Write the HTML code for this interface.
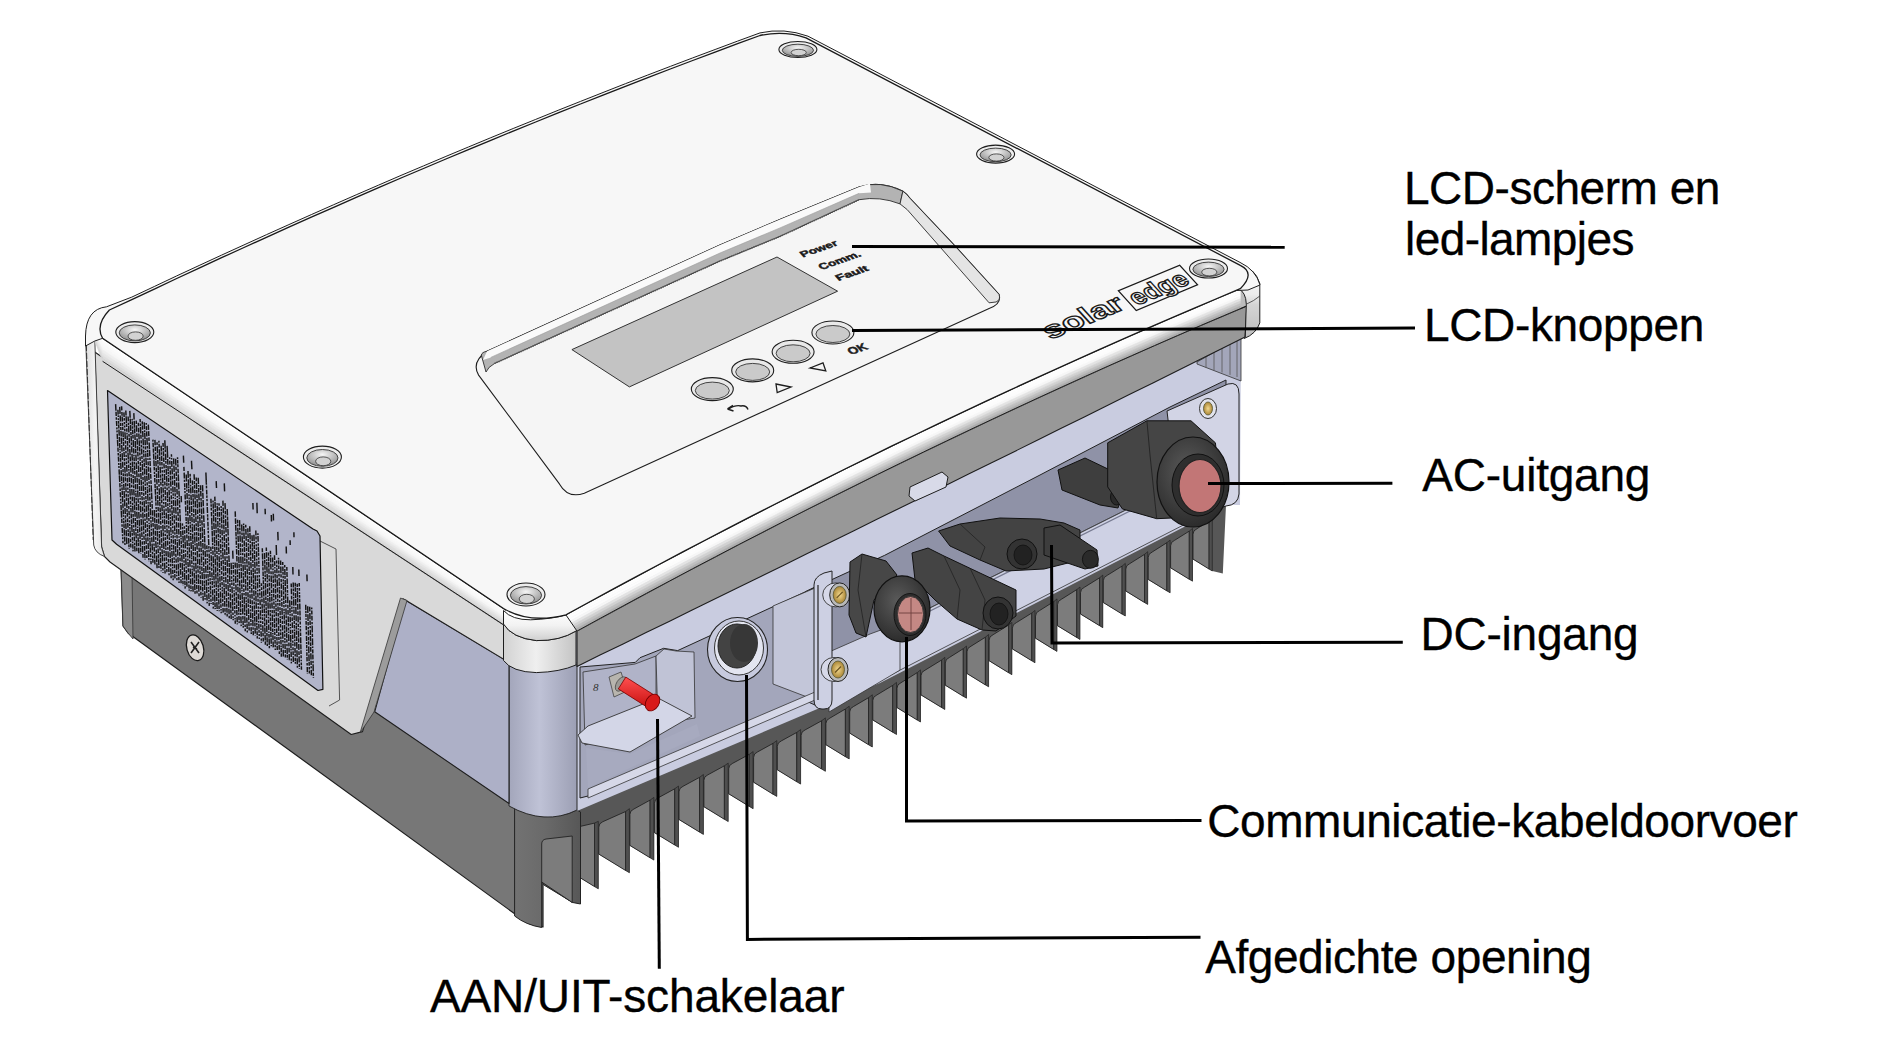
<!DOCTYPE html>
<html><head><meta charset="utf-8"><title>SolarEdge omvormer</title>
<style>html,body{margin:0;padding:0;background:#fff;}body{width:1879px;height:1062px;overflow:hidden;}svg{display:block;}</style>
</head><body>
<svg width="1879" height="1062" viewBox="0 0 1879 1062"><defs>
<linearGradient id="rimhl" x1="0" y1="0" x2="0" y2="1">
 <stop offset="0" stop-color="#ffffff"/><stop offset="0.4" stop-color="#fcfcfc"/><stop offset="0.8" stop-color="#c4c4c4"/><stop offset="1" stop-color="#a6a6a6"/>
</linearGradient>
<linearGradient id="rimhl2" x1="0" y1="0" x2="0" y2="1">
 <stop offset="0" stop-color="#ffffff"/><stop offset="0.55" stop-color="#f3f3f3"/><stop offset="1" stop-color="#d6d6d6"/>
</linearGradient>
<linearGradient id="corner" x1="0" y1="0" x2="1" y2="0">
 <stop offset="0" stop-color="#a3a6bb"/><stop offset="0.45" stop-color="#bfc2d6"/><stop offset="1" stop-color="#9c9fb4"/>
</linearGradient>
<linearGradient id="lidcorner" x1="0" y1="0" x2="1" y2="0">
 <stop offset="0" stop-color="#d2d2d2"/><stop offset="0.45" stop-color="#efefef"/><stop offset="1" stop-color="#c4c4c4"/>
</linearGradient>
<linearGradient id="lidcornerR" x1="0" y1="0" x2="1" y2="0">
 <stop offset="0" stop-color="#b4b4b4"/><stop offset="0.5" stop-color="#e8e8e8"/><stop offset="1" stop-color="#d2d2d2"/>
</linearGradient>
<radialGradient id="screw" cx="0.5" cy="0.3" r="0.7">
 <stop offset="0" stop-color="#f6f6f6"/><stop offset="1" stop-color="#8e8e8e"/>
</radialGradient>
<radialGradient id="brass" cx="0.5" cy="0.5" r="0.5">
 <stop offset="0" stop-color="#f3d98e"/><stop offset="1" stop-color="#a98535"/>
</radialGradient>
<linearGradient id="swg" x1="0" y1="0" x2="0" y2="1">
 <stop offset="0" stop-color="#ff5050"/><stop offset="1" stop-color="#c81010"/>
</linearGradient>
<radialGradient id="cap" cx="0.42" cy="0.38" r="0.62">
 <stop offset="0" stop-color="#5a5a5a"/><stop offset="1" stop-color="#2c2c2c"/>
</radialGradient>
<linearGradient id="dk" x1="0" y1="0" x2="0" y2="1">
 <stop offset="0" stop-color="#4a4a4a"/><stop offset="1" stop-color="#333"/>
</linearGradient>
</defs>
<polygon points="121.0,566.0 374.0,705.0 509.0,790.0 520.0,806.0 543.0,830.0 543.0,927.0 530.0,924.0 515.0,914.0 128.0,633.0 123.0,626.0" fill="#777777" stroke="#1e1e1e" stroke-width="1.2" stroke-linejoin="round" />
<polygon points="121.0,566.0 132.0,573.0 133.0,639.0 128.0,633.0 123.0,626.0" fill="#8b8b8b" stroke="#333" stroke-width="0.8" stroke-linejoin="round" />
<ellipse cx="195.1" cy="647.8" rx="8.3" ry="13.2" fill="#dedad6" stroke="#1a1a1a" stroke-width="1.3" transform="rotate(-16 195.1 647.8)" />
<path d="M191 642 L199 653 M199 642 L191 653 M193 647 L197 649" stroke="#222" stroke-width="1.6"/>
<polygon points="543.0,805.0 543.0,884.7 572.3,902.3 572.3,873.2 598.3,888.8 598.3,854.1 629.4,872.7 629.4,845.4 653.9,860.1 653.9,832.6 678.5,847.3 678.5,819.5 703.4,834.4 703.4,806.7 728.2,821.6 728.2,793.8 753.1,808.7 753.1,782.2 776.8,796.4 776.8,769.8 800.6,784.1 800.6,756.4 825.4,771.3 825.4,744.7 849.2,758.9 849.2,733.1 872.3,747.0 872.3,719.9 896.5,734.5 896.5,707.6 920.5,722.0 920.5,694.9 944.8,709.5 944.8,685.2 966.5,698.2 966.5,673.5 988.6,686.8 988.6,660.7 1011.9,674.7 1011.9,648.9 1035.0,662.8 1035.0,638.2 1057.0,651.4 1057.0,625.7 1080.0,639.5 1080.0,614.0 1102.8,627.7 1102.8,602.5 1125.3,616.0 1125.3,591.0 1147.7,604.4 1147.7,579.4 1170.1,592.8 1170.1,567.8 1192.5,581.2 1192.5,559.1 1212.3,571.0 1222.8,573.6 1226.0,505.0 1226.0,470.0 543.0,780.0" fill="#575757" stroke="none" stroke-width="1" stroke-linejoin="round" />
<path d="M543.5,884.7 L543.5,838.9 Q543.5,834.9 547.5,833.4 L568.5,828.6 L568.5,900.0 Z" fill="#7c7c7c" stroke="#222" stroke-width="0.9" stroke-linejoin="round" />
<polygon points="568.5,828.6 572.3,826.8 572.3,902.3 568.5,900.0" fill="#4f4f4f" stroke="#222" stroke-width="0.7" stroke-linejoin="round" />
<path d="M572.8,873.2 L572.8,832.7 Q572.8,828.7 576.8,827.2 L594.5,823.1 L594.5,886.6 Z" fill="#7c7c7c" stroke="#222" stroke-width="0.9" stroke-linejoin="round" />
<polygon points="594.5,823.1 598.3,821.3 598.3,888.8 594.5,886.6" fill="#4f4f4f" stroke="#222" stroke-width="0.7" stroke-linejoin="round" />
<path d="M598.8,854.1 L598.8,827.2 Q598.8,823.2 602.8,821.7 L625.6,811.5 L625.6,870.5 Z" fill="#7c7c7c" stroke="#222" stroke-width="0.9" stroke-linejoin="round" />
<polygon points="625.6,811.5 629.4,808.7 629.4,872.7 625.6,870.5" fill="#4f4f4f" stroke="#222" stroke-width="0.7" stroke-linejoin="round" />
<path d="M629.9,845.4 L629.9,814.5 Q629.9,810.5 633.9,809.0 L650.1,800.1 L650.1,857.8 Z" fill="#7c7c7c" stroke="#222" stroke-width="0.9" stroke-linejoin="round" />
<polygon points="650.1,800.1 653.9,797.4 653.9,860.1 650.1,857.8" fill="#4f4f4f" stroke="#222" stroke-width="0.7" stroke-linejoin="round" />
<path d="M654.4,832.6 L654.4,803.2 Q654.4,799.2 658.4,797.7 L674.7,788.8 L674.7,845.0 Z" fill="#7c7c7c" stroke="#222" stroke-width="0.9" stroke-linejoin="round" />
<polygon points="674.7,788.8 678.5,786.0 678.5,847.3 674.7,845.0" fill="#4f4f4f" stroke="#222" stroke-width="0.7" stroke-linejoin="round" />
<path d="M679.0,819.5 L679.0,791.8 Q679.0,787.8 683.0,786.3 L699.6,777.3 L699.6,832.1 Z" fill="#7c7c7c" stroke="#222" stroke-width="0.9" stroke-linejoin="round" />
<polygon points="699.6,777.3 703.4,774.5 703.4,834.4 699.6,832.1" fill="#4f4f4f" stroke="#222" stroke-width="0.7" stroke-linejoin="round" />
<path d="M703.9,806.7 L703.9,780.3 Q703.9,776.3 707.9,774.8 L724.4,765.8 L724.4,819.3 Z" fill="#7c7c7c" stroke="#222" stroke-width="0.9" stroke-linejoin="round" />
<polygon points="724.4,765.8 728.2,763.1 728.2,821.6 724.4,819.3" fill="#4f4f4f" stroke="#222" stroke-width="0.7" stroke-linejoin="round" />
<path d="M728.7,793.8 L728.7,768.8 Q728.7,764.8 732.7,763.3 L749.3,754.3 L749.3,806.4 Z" fill="#7c7c7c" stroke="#222" stroke-width="0.9" stroke-linejoin="round" />
<polygon points="749.3,754.3 753.1,751.6 753.1,808.7 749.3,806.4" fill="#4f4f4f" stroke="#222" stroke-width="0.7" stroke-linejoin="round" />
<path d="M753.6,782.2 L753.6,757.4 Q753.6,753.4 757.6,751.9 L773.0,743.4 L773.0,794.2 Z" fill="#7c7c7c" stroke="#222" stroke-width="0.9" stroke-linejoin="round" />
<polygon points="773.0,743.4 776.8,740.6 776.8,796.4 773.0,794.2" fill="#4f4f4f" stroke="#222" stroke-width="0.7" stroke-linejoin="round" />
<path d="M777.3,769.8 L777.3,746.4 Q777.3,742.4 781.3,740.9 L796.8,732.4 L796.8,781.8 Z" fill="#7c7c7c" stroke="#222" stroke-width="0.9" stroke-linejoin="round" />
<polygon points="796.8,732.4 800.6,729.6 800.6,784.1 796.8,781.8" fill="#4f4f4f" stroke="#222" stroke-width="0.7" stroke-linejoin="round" />
<path d="M801.1,756.4 L801.1,735.4 Q801.1,731.4 805.1,729.9 L821.6,720.8 L821.6,769.0 Z" fill="#7c7c7c" stroke="#222" stroke-width="0.9" stroke-linejoin="round" />
<polygon points="821.6,720.8 825.4,717.9 825.4,771.3 821.6,769.0" fill="#4f4f4f" stroke="#222" stroke-width="0.7" stroke-linejoin="round" />
<path d="M825.9,744.7 L825.9,723.6 Q825.9,719.6 829.9,718.1 L845.4,709.0 L845.4,756.7 Z" fill="#7c7c7c" stroke="#222" stroke-width="0.9" stroke-linejoin="round" />
<polygon points="845.4,709.0 849.2,706.2 849.2,758.9 845.4,756.7" fill="#4f4f4f" stroke="#222" stroke-width="0.7" stroke-linejoin="round" />
<path d="M849.7,733.1 L849.7,711.9 Q849.7,707.9 853.7,706.4 L868.5,697.7 L868.5,744.7 Z" fill="#7c7c7c" stroke="#222" stroke-width="0.9" stroke-linejoin="round" />
<polygon points="868.5,697.7 872.3,694.8 872.3,747.0 868.5,744.7" fill="#4f4f4f" stroke="#222" stroke-width="0.7" stroke-linejoin="round" />
<path d="M872.8,719.9 L872.8,700.5 Q872.8,696.5 876.8,695.0 L892.7,685.4 L892.7,732.2 Z" fill="#7c7c7c" stroke="#222" stroke-width="0.9" stroke-linejoin="round" />
<polygon points="892.7,685.4 896.5,682.4 896.5,734.5 892.7,732.2" fill="#4f4f4f" stroke="#222" stroke-width="0.7" stroke-linejoin="round" />
<path d="M897.0,707.6 L897.0,688.2 Q897.0,684.2 901.0,682.7 L917.3,672.6 L917.3,720.1 Z" fill="#7c7c7c" stroke="#222" stroke-width="0.9" stroke-linejoin="round" />
<polygon points="917.3,672.6 920.5,669.9 920.5,722.0 917.3,720.1" fill="#4f4f4f" stroke="#222" stroke-width="0.7" stroke-linejoin="round" />
<path d="M921.0,694.9 L921.0,675.7 Q921.0,671.7 925.0,670.2 L941.6,660.0 L941.6,707.5 Z" fill="#7c7c7c" stroke="#222" stroke-width="0.9" stroke-linejoin="round" />
<polygon points="941.6,660.0 944.8,657.3 944.8,709.5 941.6,707.5" fill="#4f4f4f" stroke="#222" stroke-width="0.7" stroke-linejoin="round" />
<path d="M945.3,685.2 L945.3,663.0 Q945.3,659.0 949.3,657.5 L963.3,648.7 L963.3,696.3 Z" fill="#7c7c7c" stroke="#222" stroke-width="0.9" stroke-linejoin="round" />
<polygon points="963.3,648.7 966.5,646.0 966.5,698.2 963.3,696.3" fill="#4f4f4f" stroke="#222" stroke-width="0.7" stroke-linejoin="round" />
<path d="M967.0,673.5 L967.0,651.7 Q967.0,647.7 971.0,646.2 L985.4,637.2 L985.4,684.9 Z" fill="#7c7c7c" stroke="#222" stroke-width="0.9" stroke-linejoin="round" />
<polygon points="985.4,637.2 988.6,634.5 988.6,686.8 985.4,684.9" fill="#4f4f4f" stroke="#222" stroke-width="0.7" stroke-linejoin="round" />
<path d="M989.1,660.7 L989.1,640.2 Q989.1,636.2 993.1,634.7 L1008.7,625.0 L1008.7,672.8 Z" fill="#7c7c7c" stroke="#222" stroke-width="0.9" stroke-linejoin="round" />
<polygon points="1008.7,625.0 1011.9,622.4 1011.9,674.7 1008.7,672.8" fill="#4f4f4f" stroke="#222" stroke-width="0.7" stroke-linejoin="round" />
<path d="M1012.4,648.9 L1012.4,628.1 Q1012.4,624.1 1016.4,622.6 L1031.8,613.0 L1031.8,660.8 Z" fill="#7c7c7c" stroke="#222" stroke-width="0.9" stroke-linejoin="round" />
<polygon points="1031.8,613.0 1035.0,610.4 1035.0,662.8 1031.8,660.8" fill="#4f4f4f" stroke="#222" stroke-width="0.7" stroke-linejoin="round" />
<path d="M1035.5,638.2 L1035.5,616.1 Q1035.5,612.1 1039.5,610.6 L1053.8,601.6 L1053.8,649.5 Z" fill="#7c7c7c" stroke="#222" stroke-width="0.9" stroke-linejoin="round" />
<polygon points="1053.8,601.6 1057.0,598.9 1057.0,651.4 1053.8,649.5" fill="#4f4f4f" stroke="#222" stroke-width="0.7" stroke-linejoin="round" />
<path d="M1057.5,625.7 L1057.5,604.7 Q1057.5,600.7 1061.5,599.2 L1076.8,589.6 L1076.8,637.5 Z" fill="#7c7c7c" stroke="#222" stroke-width="0.9" stroke-linejoin="round" />
<polygon points="1076.8,589.6 1080.0,587.0 1080.0,639.5 1076.8,637.5" fill="#4f4f4f" stroke="#222" stroke-width="0.7" stroke-linejoin="round" />
<path d="M1080.5,614.0 L1080.5,592.7 Q1080.5,588.7 1084.5,587.2 L1099.6,577.8 L1099.6,625.7 Z" fill="#7c7c7c" stroke="#222" stroke-width="0.9" stroke-linejoin="round" />
<polygon points="1099.6,577.8 1102.8,575.1 1102.8,627.7 1099.6,625.7" fill="#4f4f4f" stroke="#222" stroke-width="0.7" stroke-linejoin="round" />
<path d="M1103.3,602.5 L1103.3,580.8 Q1103.3,576.8 1107.3,575.3 L1122.1,566.1 L1122.1,614.1 Z" fill="#7c7c7c" stroke="#222" stroke-width="0.9" stroke-linejoin="round" />
<polygon points="1122.1,566.1 1125.3,563.4 1125.3,616.0 1122.1,614.1" fill="#4f4f4f" stroke="#222" stroke-width="0.7" stroke-linejoin="round" />
<path d="M1125.8,591.0 L1125.8,569.1 Q1125.8,565.1 1129.8,563.6 L1144.5,554.4 L1144.5,602.5 Z" fill="#7c7c7c" stroke="#222" stroke-width="0.9" stroke-linejoin="round" />
<polygon points="1144.5,554.4 1147.7,551.7 1147.7,604.4 1144.5,602.5" fill="#4f4f4f" stroke="#222" stroke-width="0.7" stroke-linejoin="round" />
<path d="M1148.2,579.4 L1148.2,557.5 Q1148.2,553.5 1152.2,552.0 L1166.9,542.7 L1166.9,590.9 Z" fill="#7c7c7c" stroke="#222" stroke-width="0.9" stroke-linejoin="round" />
<polygon points="1166.9,542.7 1170.1,540.1 1170.1,592.8 1166.9,590.9" fill="#4f4f4f" stroke="#222" stroke-width="0.7" stroke-linejoin="round" />
<path d="M1170.6,567.8 L1170.6,545.8 Q1170.6,541.8 1174.6,540.3 L1189.3,531.1 L1189.3,579.3 Z" fill="#7c7c7c" stroke="#222" stroke-width="0.9" stroke-linejoin="round" />
<polygon points="1189.3,531.1 1192.5,528.4 1192.5,581.2 1189.3,579.3" fill="#4f4f4f" stroke="#222" stroke-width="0.7" stroke-linejoin="round" />
<path d="M1193.0,559.1 L1193.0,534.2 Q1193.0,530.2 1197.0,528.7 L1209.1,520.8 L1209.1,569.1 Z" fill="#7c7c7c" stroke="#222" stroke-width="0.9" stroke-linejoin="round" />
<polygon points="1209.1,520.8 1212.3,518.1 1212.3,571.0 1209.1,569.1" fill="#4f4f4f" stroke="#222" stroke-width="0.7" stroke-linejoin="round" />
<linearGradient id="bcorner" x1="0" y1="0" x2="1" y2="0"><stop offset="0" stop-color="#747474"/><stop offset="0.5" stop-color="#6a6a6a"/><stop offset="1" stop-color="#575757"/></linearGradient>
<path d="M509,800 Q545,826 577,810 L580.5,812 L580.5,904 L572.2,902.4 L541.7,882 L541.7,927.5 Q526,925 514.6,916 L514.6,806 Z" fill="url(#bcorner)" stroke="#222" stroke-width="1" stroke-linejoin="round" />
<path d="M541.7,882 L541.7,844 Q541.7,839.7 546,839 L572.2,836 L572.2,902.4 Z" fill="#7c7c7c" stroke="#222" stroke-width="0.9" stroke-linejoin="round" />
<polygon points="509.0,640.0 1245.0,300.0 1241.0,340.0 1240.0,505.0 1226.0,505.0 1183.0,527.5 880.0,683.0 815.0,710.0 577.0,811.0 509.0,800.0" fill="#c9cce0" stroke="none" stroke-width="1" stroke-linejoin="round" />
<path d="M509,655 L577,662 L577,810 Q545,826 509,806 Z" fill="url(#corner)" stroke="none" stroke-width="1" stroke-linejoin="round" />
<polyline points="509.0,656.0 509.0,806.0" fill="none" stroke="#2a2a2a" stroke-width="1" stroke-linejoin="round" />
<path d="M577,810 Q545,826 509,806" fill="none" stroke="#2a2a2a" stroke-width="1" stroke-linejoin="round" />
<polyline points="577.0,664.0 577.0,811.0" fill="none" stroke="#2a2a2a" stroke-width="1" stroke-linejoin="round" />
<polygon points="580.0,667.0 635.3,662.4 640.0,657.7 663.6,648.3 677.7,650.6 804.9,592.0 815.0,587.0 815.0,705.0 806.0,701.0 588.0,796.0 580.0,798.0" fill="#a3a6bb" stroke="#222" stroke-width="1" stroke-linejoin="round" />
<polygon points="804.9,592.0 884.7,555.3 1040.0,475.0 1170.0,407.0 1226.0,380.0 1226.0,460.0 870.0,638.0 815.0,660.0" fill="#8f92a7" stroke="#222" stroke-width="1" stroke-linejoin="round" />
<polygon points="860.0,643.0 1226.0,460.0 1226.0,503.2 860.0,690.6" fill="#ced1e4" stroke="#333" stroke-width="0.8" stroke-linejoin="round" />
<polyline points="860.0,646.0 1226.0,463.0" fill="none" stroke="#777a90" stroke-width="1.2" stroke-linejoin="round" />
<polygon points="583.0,672.0 635.0,664.0 656.0,656.0 656.0,724.0 585.0,745.0" fill="#b0b3c8" stroke="#333" stroke-width="0.8" stroke-linejoin="round" />
<polygon points="656.0,656.0 664.0,649.0 676.0,651.0 694.0,652.0 695.0,718.0 658.0,724.0" fill="#c0c3d6" stroke="#333" stroke-width="0.8" stroke-linejoin="round" />
<polygon points="578.0,735.0 588.0,726.0 658.0,698.0 692.0,716.0 630.0,752.0 582.0,743.0" fill="#d3d6e7" stroke="#333" stroke-width="0.9" stroke-linejoin="round" />
<polygon points="586.0,748.0 630.0,754.0 697.0,724.0 700.0,736.0 630.0,768.0 588.0,788.0" fill="#a7aabf" stroke="none" stroke-width="1" stroke-linejoin="round" />
<polygon points="773.0,606.0 815.0,588.0 815.0,700.0 773.0,684.0" fill="#c3c6d9" stroke="#333" stroke-width="0.8" stroke-linejoin="round" />
<polygon points="588.0,789.0 815.0,692.0 815.0,700.0 588.0,798.0" fill="#d6d8e8" stroke="#333" stroke-width="0.8" stroke-linejoin="round" />
<ellipse cx="737.5" cy="649.5" rx="30.0" ry="32.0" fill="#c7cade" stroke="#222" stroke-width="1.1" />
<ellipse cx="739.0" cy="648.0" rx="24.5" ry="27.0" fill="#e3e5f0" stroke="#333" stroke-width="1" />
<ellipse cx="737.0" cy="646.0" rx="19.0" ry="22.0" fill="#434343" stroke="#222" stroke-width="1" />
<ellipse cx="744.0" cy="643.0" rx="14.0" ry="19.0" fill="#373737" stroke="none" stroke-width="1" />
<polygon points="609.0,677.0 621.0,672.0 627.0,691.0 614.0,697.0" fill="#b8b5ae" stroke="#444" stroke-width="0.8" stroke-linejoin="round" />
<ellipse cx="621.0" cy="684.0" rx="4.5" ry="8.0" fill="#9c9a95" stroke="#444" stroke-width="0.7" transform="rotate(32 621.0 684.0)" />
<path d="M 618.3,688.9 L 648.3,707.9 L 655.8,696.1 L 625.8,677.1 Z" fill="url(#swg)" stroke="#700" stroke-width="0.8" stroke-linejoin="round" />
<ellipse cx="652.5" cy="702.5" rx="6.5" ry="9.0" fill="#d81a1a" stroke="#700" stroke-width="0.9" transform="rotate(32 652.5 702.5)" />
<text x="593" y="691" font-family="Liberation Serif" font-style="italic" font-size="11" fill="#333">8</text>
<polygon points="829.0,652.0 870.0,634.0 900.0,623.0 900.0,670.1 829.0,712.0" fill="#ced1e4" stroke="#333" stroke-width="0.8" stroke-linejoin="round" />
<path d="M 814,585 Q 814,577 824,573 L 832,571 L 832,700 Q 832,709 824,709 L 822,709 Q 814,709 814,700 Z" fill="#cdd0e3" stroke="#222" stroke-width="1" stroke-linejoin="round" />
<polyline points="818.0,585.0 818.0,700.0" fill="none" stroke="#222" stroke-width="1.2" stroke-linejoin="round" />
<ellipse cx="835.7" cy="594.9" rx="13.0" ry="12.0" fill="#d6d8e8" stroke="#333" stroke-width="0.9" />
<ellipse cx="839.7" cy="594.9" rx="10.0" ry="12.0" fill="#b9b9b9" stroke="#222" stroke-width="1" />
<ellipse cx="839.7" cy="594.9" rx="6.5" ry="8.5" fill="url(#brass)" stroke="#553" stroke-width="0.8" />
<polyline points="836.7,597.9 842.7,591.9" fill="none" stroke="#6b5320" stroke-width="1.2" stroke-linejoin="round" />
<ellipse cx="834.0" cy="669.5" rx="13.0" ry="12.0" fill="#d6d8e8" stroke="#333" stroke-width="0.9" />
<ellipse cx="838.0" cy="669.5" rx="10.0" ry="12.0" fill="#b9b9b9" stroke="#222" stroke-width="1" />
<ellipse cx="838.0" cy="669.5" rx="6.5" ry="8.5" fill="url(#brass)" stroke="#553" stroke-width="0.8" />
<polyline points="835.0,672.5 841.0,666.5" fill="none" stroke="#6b5320" stroke-width="1.2" stroke-linejoin="round" />
<polygon points="850.0,562.0 862.0,554.0 886.0,561.0 897.0,575.0 874.0,600.0 866.0,637.0 856.0,633.0 849.0,615.0" fill="#474747" stroke="#111" stroke-width="1" stroke-linejoin="round" />
<polyline points="862.0,554.0 858.0,590.0 866.0,637.0" fill="none" stroke="#222" stroke-width="0.8" stroke-linejoin="round" />
<polygon points="912.0,553.0 928.0,548.0 944.0,556.0 1016.0,590.0 1016.0,616.0 996.0,631.0 982.0,630.0 957.0,619.0 935.0,600.0 915.0,580.0" fill="#444" stroke="#111" stroke-width="1" stroke-linejoin="round" />
<polyline points="944.0,556.0 960.0,590.0 957.0,619.0" fill="none" stroke="#222" stroke-width="0.8" stroke-linejoin="round" />
<polyline points="970.0,568.0 985.0,600.0 982.0,630.0" fill="none" stroke="#222" stroke-width="0.8" stroke-linejoin="round" />
<ellipse cx="998.0" cy="613.0" rx="15.0" ry="16.0" fill="#333" stroke="#111" stroke-width="1" />
<ellipse cx="999.0" cy="614.0" rx="9.0" ry="11.0" fill="#222" stroke="#111" stroke-width="0.8" />
<ellipse cx="902.0" cy="608.8" rx="28.0" ry="33.0" fill="url(#cap)" stroke="#111" stroke-width="1.2" />
<ellipse cx="910.0" cy="614.5" rx="16.0" ry="21.0" fill="#2e2e2e" stroke="#111" stroke-width="0.9" />
<ellipse cx="910.5" cy="614.5" rx="13.0" ry="18.0" fill="#c48884" stroke="#333" stroke-width="0.9" />
<polyline points="899.0,613.0 922.0,613.0" fill="none" stroke="#6d3e3c" stroke-width="0.9" stroke-linejoin="round" />
<polyline points="911.0,598.0 911.0,630.0" fill="none" stroke="#6d3e3c" stroke-width="0.9" stroke-linejoin="round" />
<polygon points="938.6,531.0 960.0,524.0 1000.0,518.0 1040.0,519.0 1064.0,523.0 1080.0,530.0 1080.0,560.0 1044.0,569.0 1006.0,571.0 980.0,560.0 950.0,546.0" fill="#434343" stroke="#111" stroke-width="1" stroke-linejoin="round" />
<polyline points="960.0,524.0 985.0,547.0 980.0,560.0" fill="none" stroke="#222" stroke-width="0.8" stroke-linejoin="round" />
<ellipse cx="1022.0" cy="554.0" rx="15.0" ry="15.0" fill="#333" stroke="#111" stroke-width="1" />
<ellipse cx="1023.0" cy="555.0" rx="9.0" ry="10.0" fill="#222" stroke="#111" stroke-width="0.8" />
<polygon points="1044.0,528.0 1060.0,525.0 1097.0,550.0 1098.0,566.0 1085.0,569.0 1044.0,555.0" fill="#3d3d3d" stroke="#111" stroke-width="1" stroke-linejoin="round" />
<ellipse cx="1090.4" cy="559.3" rx="8.0" ry="9.0" fill="#2a2a2a" stroke="#111" stroke-width="0.9" />
<path d="M 1058,470 L 1085,458 L 1110,470 L 1122,495 L 1118,508 L 1100,505 L 1062,490 Z" fill="#3e3e3e" stroke="#111" stroke-width="1" stroke-linejoin="round" />
<ellipse cx="1116.5" cy="497.0" rx="6.0" ry="8.0" fill="#2a2a2a" stroke="#111" stroke-width="0.9" />
<path d="M 1167,411 L 1228,384 Q 1239,381 1239,394 L 1239,494 Q 1238,505 1226,506 L 1180,522 Z" fill="#d2d4e5" stroke="#222" stroke-width="1" stroke-linejoin="round" />
<ellipse cx="1208.0" cy="408.5" rx="8.5" ry="10.0" fill="#e2e3ec" stroke="#333" stroke-width="1" />
<ellipse cx="1208.0" cy="408.5" rx="4.5" ry="6.5" fill="url(#brass)" stroke="#553" stroke-width="0.8" />
<polygon points="1107.7,442.8 1146.9,420.8 1191.0,420.8 1215.4,442.8 1220.3,486.9 1208.0,516.3 1156.7,518.7 1122.4,508.9 1107.7,486.9" fill="#454545" stroke="#111" stroke-width="1" stroke-linejoin="round" />
<polyline points="1146.9,420.8 1150.0,455.0 1156.7,518.7" fill="none" stroke="#222" stroke-width="0.9" stroke-linejoin="round" />
<ellipse cx="1193.0" cy="482.0" rx="36.0" ry="45.0" fill="url(#cap)" stroke="#111" stroke-width="1.2" />
<ellipse cx="1198.0" cy="485.0" rx="26.0" ry="31.0" fill="#2e2e2e" stroke="#111" stroke-width="1" />
<ellipse cx="1200.0" cy="486.0" rx="21.0" ry="26.5" fill="#c27676" stroke="#222" stroke-width="1.2" />
<polygon points="1197.0,362.0 1241.0,337.0 1241.0,381.0 1228.0,376.0 1197.0,364.0" fill="#a3a6ba" stroke="#333" stroke-width="0.8" stroke-linejoin="round" />
<polyline points="1206.0,356.9 1206.0,367.7" fill="none" stroke="#555" stroke-width="0.8" stroke-linejoin="round" />
<polyline points="1214.0,352.3 1214.0,370.1" fill="none" stroke="#555" stroke-width="0.8" stroke-linejoin="round" />
<polyline points="1222.0,347.8 1222.0,372.5" fill="none" stroke="#555" stroke-width="0.8" stroke-linejoin="round" />
<polyline points="1230.0,343.2 1230.0,374.9" fill="none" stroke="#555" stroke-width="0.8" stroke-linejoin="round" />
<polyline points="1237.0,339.2 1237.0,377.0" fill="none" stroke="#555" stroke-width="0.8" stroke-linejoin="round" />
<polygon points="405.3,600.0 509.0,662.4 509.0,803.5 374.7,711.8" fill="#adb0c7" stroke="#1e1e1e" stroke-width="1.1" stroke-linejoin="round" />
<polygon points="94.8,352.0 200.0,425.3 503.6,624.8 509.0,662.4 405.3,600.0 402.9,598.8 362.5,731.6 351.2,734.5 110.0,562.0 104.5,556.5 101.6,547.0" fill="#d9d9d9" stroke="#1e1e1e" stroke-width="1.1" stroke-linejoin="round" />
<polygon points="360.0,733.0 400.5,598.0 407.0,600.5 374.0,712.0" fill="#9c9c9c" stroke="#333" stroke-width="0.8" stroke-linejoin="round" />
<linearGradient id="lstrip" x1="0" y1="0" x2="1" y2="0"><stop offset="0" stop-color="#dcdcdc"/><stop offset="0.5" stop-color="#f4f4f4"/><stop offset="1" stop-color="#e4e4e4"/></linearGradient>
<path d="M 85.5,336 L 94.8,340 L 101.6,547 L 104.5,556.5 Q 95,553 93.7,545 Z" fill="url(#lstrip)" stroke="#333" stroke-width="0.9" stroke-linejoin="round" />
<line x1="86.3" y1="345" x2="93.2" y2="540" stroke="#333" stroke-width="1" stroke-dasharray="6 2"/>
<polyline points="320.0,541.0 336.0,549.0 339.6,700.0 329.0,706.0" fill="none" stroke="#444" stroke-width="0.9" stroke-linejoin="round" />
<polygon points="107.5,390.6 313.0,529.0 317.0,531.0 320.0,536.0 322.9,689.3 318.0,690.5 116.6,544.3 112.0,540.0" fill="#b2b5ca" stroke="#111" stroke-width="1.2" stroke-linejoin="round" />
<g stroke="#141414" stroke-width="1.45"><line x1="115.6" y1="404.1" x2="123.0" y2="543.2" stroke-dasharray="6.6 1.1 4.3 1.2 2.5 1.2 5.0 1.4 2.0 1.0 2.0 1.4 5.3 0.7"/><line x1="117.9" y1="409.7" x2="125.0" y2="545.0" stroke-dasharray="4.9 0.8 1.6 1.2 1.8 0.9 2.8 0.7 4.1 1.1 6.1 1.2 5.0 1.1"/><line x1="119.7" y1="406.9" x2="126.9" y2="545.0" stroke-dasharray="7.0 1.6 6.1 1.3 3.2 0.9 3.1 0.8 5.7 1.1 6.2 1.0 6.8 1.5"/><line x1="121.6" y1="406.3" x2="129.1" y2="548.8" stroke-dasharray="4.1 1.6 3.7 0.8 5.0 1.4 3.0 0.8 3.3 1.6 5.7 0.8 2.9 0.8"/><line x1="123.9" y1="412.4" x2="130.9" y2="547.5" stroke-dasharray="4.6 1.1 2.5 1.4 2.2 1.3 2.1 1.1 2.7 0.9 6.8 1.4 3.2 1.5"/><line x1="125.8" y1="410.5" x2="133.1" y2="551.4" stroke-dasharray="5.0 0.8 6.9 0.9 2.9 1.4 3.3 1.0 1.9 0.8 4.7 0.9 4.8 1.0"/><line x1="128.1" y1="416.5" x2="135.0" y2="551.5" stroke-dasharray="4.7 1.5 2.5 0.8 6.5 1.4 2.9 0.9 5.6 1.5 2.6 1.6 6.4 1.2"/><line x1="129.8" y1="410.9" x2="136.9" y2="551.2" stroke-dasharray="6.8 0.9 5.4 0.9 6.0 1.2 3.1 0.9 5.5 0.8 2.8 1.2 6.2 1.3"/><line x1="132.1" y1="418.9" x2="138.9" y2="553.3" stroke-dasharray="1.6 0.9 4.0 0.8 2.5 1.0 4.6 0.8 3.5 1.5 6.9 1.3 5.3 1.2"/><line x1="133.8" y1="413.1" x2="140.9" y2="554.0" stroke-dasharray="6.5 1.3 6.8 0.7 5.0 1.1 5.5 1.0 7.0 0.8 4.5 1.4 6.5 1.4"/><line x1="136.2" y1="420.6" x2="143.1" y2="558.8" stroke-dasharray="3.4 1.3 6.5 1.5 3.8 1.4 6.2 1.2 4.9 1.0 4.7 1.2 1.9 1.3"/><line x1="138.3" y1="422.7" x2="145.1" y2="559.5" stroke-dasharray="3.6 1.4 4.7 1.1 6.1 0.8 5.6 0.7 4.8 1.1 2.8 1.3 4.2 1.3"/><line x1="140.1" y1="419.0" x2="146.9" y2="558.2" stroke-dasharray="3.2 1.3 2.6 0.9 6.5 1.3 3.9 1.5 3.3 1.3 2.6 1.1 5.9 1.5"/><line x1="142.2" y1="421.4" x2="149.0" y2="561.8" stroke-dasharray="3.2 0.8 4.2 1.5 6.2 1.3 6.7 0.9 2.4 1.1 3.0 0.9 3.8 1.3"/><line x1="144.2" y1="422.2" x2="151.1" y2="564.2" stroke-dasharray="6.9 1.1 1.9 0.7 6.3 0.7 5.4 1.2 3.2 1.4 1.6 0.8 4.0 0.7"/><line x1="146.2" y1="423.0" x2="153.0" y2="563.0" stroke-dasharray="1.8 1.3 4.0 1.3 5.1 1.4 6.8 1.3 2.6 1.1 2.5 0.7 4.1 1.3"/><line x1="148.3" y1="424.6" x2="155.0" y2="565.2" stroke-dasharray="5.3 1.2 4.9 1.4 3.7 1.4 6.5 0.8 6.6 1.4 2.2 1.1 4.9 1.5"/><line x1="154.3" y1="510.0" x2="157.1" y2="568.3" stroke-dasharray="6.7 1.1 5.1 0.9 5.5 1.4 5.0 1.3 2.7 1.5 6.9 1.6 4.5 1.4"/><line x1="152.9" y1="439.6" x2="159.0" y2="568.0" stroke-dasharray="2.0 1.1 4.5 1.4 4.2 0.7 6.0 0.8 5.9 0.9 3.3 1.4 2.3 0.8"/><line x1="154.9" y1="439.9" x2="161.1" y2="571.3" stroke-dasharray="5.3 1.6 4.2 1.6 2.0 0.9 4.4 1.0 5.5 1.3 4.4 1.5 4.6 1.0"/><line x1="157.0" y1="442.3" x2="163.1" y2="572.9" stroke-dasharray="2.6 1.5 6.8 1.2 4.7 0.9 4.4 1.2 4.8 0.7 6.8 1.2 3.7 1.4"/><line x1="158.9" y1="440.7" x2="165.1" y2="573.5" stroke-dasharray="1.9 1.2 3.8 1.6 6.6 0.9 4.1 0.8 3.9 1.4 6.5 1.1 3.2 0.9"/><line x1="161.1" y1="445.7" x2="167.0" y2="572.9" stroke-dasharray="5.8 0.7 2.6 0.9 5.3 1.0 3.5 1.3 2.1 1.4 2.2 1.2 2.9 0.9"/><line x1="163.0" y1="443.0" x2="169.1" y2="575.2" stroke-dasharray="3.8 1.2 2.4 0.9 5.0 1.3 4.4 1.5 4.9 1.5 2.8 1.4 6.0 1.5"/><line x1="165.3" y1="449.4" x2="171.2" y2="578.7" stroke-dasharray="2.7 1.6 6.4 0.8 2.8 1.4 2.9 0.8 6.1 1.1 5.8 0.8 3.7 1.3"/><line x1="164.8" y1="440.2" x2="165.2" y2="448.7"/><line x1="167.5" y1="455.7" x2="173.2" y2="580.3" stroke-dasharray="2.1 1.2 5.7 1.2 5.3 0.9 1.9 0.8 1.7 1.2 4.3 1.2 2.3 0.9"/><line x1="167.1" y1="445.9" x2="167.6" y2="456.3"/><line x1="169.6" y1="457.2" x2="175.0" y2="578.4" stroke-dasharray="1.8 1.6 4.0 1.4 3.3 1.1 4.3 1.1 4.8 0.7 5.4 1.5 2.5 1.1"/><line x1="171.4" y1="454.3" x2="177.0" y2="580.2" stroke-dasharray="2.4 1.2 1.6 1.5 5.9 1.3 6.2 1.3 3.7 1.2 4.3 1.6 5.9 0.9"/><line x1="173.6" y1="458.4" x2="179.1" y2="583.8" stroke-dasharray="6.0 1.1 6.4 1.5 5.3 1.4 5.7 1.1 5.5 0.8 3.4 1.1 1.6 1.0"/><line x1="175.6" y1="458.8" x2="181.1" y2="583.2" stroke-dasharray="6.7 1.3 3.4 1.3 4.6 1.2 3.6 1.6 5.0 1.3 5.7 1.6 1.6 1.3"/><line x1="177.5" y1="457.2" x2="183.1" y2="585.2" stroke-dasharray="1.8 0.9 3.6 0.8 2.9 1.5 4.5 1.2 6.8 1.2 7.0 1.3 6.0 0.8"/><line x1="182.4" y1="523.4" x2="185.2" y2="588.6" stroke-dasharray="2.4 1.1 2.4 1.1 4.9 0.8 6.7 1.1 4.4 1.2 3.5 1.0 5.1 1.2"/><line x1="181.2" y1="496.1" x2="181.4" y2="502.3"/><line x1="184.4" y1="526.3" x2="187.0" y2="586.7" stroke-dasharray="2.4 1.4 3.6 1.5 5.6 0.7 6.9 1.6 1.9 1.5 3.9 1.1 6.9 0.9"/><line x1="183.9" y1="466.9" x2="189.2" y2="590.7" stroke-dasharray="4.1 1.6 6.0 1.2 2.1 1.3 4.0 0.9 1.8 1.2 2.2 1.1 5.2 1.1"/><line x1="183.4" y1="455.6" x2="183.7" y2="462.7"/><line x1="186.2" y1="474.5" x2="191.1" y2="591.4" stroke-dasharray="7.0 1.6 5.5 0.9 2.1 1.5 5.8 1.3 3.5 0.9 5.3 1.2 4.8 1.3"/><line x1="188.0" y1="471.0" x2="193.1" y2="591.8" stroke-dasharray="6.9 1.5 6.3 0.7 1.8 0.9 3.8 1.3 2.1 1.2 1.9 0.8 5.2 1.2"/><line x1="190.1" y1="473.9" x2="195.1" y2="594.1" stroke-dasharray="2.7 1.0 5.6 1.5 1.9 0.8 6.0 1.3 5.7 0.9 3.8 0.9 6.0 1.0"/><line x1="192.4" y1="480.4" x2="197.1" y2="594.9" stroke-dasharray="4.5 1.4 6.6 1.1 3.5 0.8 6.3 0.8 2.0 1.2 4.2 1.3 3.1 1.4"/><line x1="191.5" y1="460.8" x2="191.9" y2="469.3"/><line x1="194.1" y1="474.3" x2="199.1" y2="596.2" stroke-dasharray="5.5 1.3 3.1 0.8 3.5 1.4 3.5 0.8 5.4 1.2 6.6 1.5 6.5 1.1"/><line x1="196.2" y1="477.5" x2="201.1" y2="597.7" stroke-dasharray="3.7 1.5 6.4 0.9 3.5 1.0 3.5 1.1 3.6 0.9 4.6 1.4 4.5 1.5"/><line x1="198.2" y1="477.8" x2="203.2" y2="600.8" stroke-dasharray="6.3 1.0 1.6 1.2 4.5 1.2 6.8 1.3 5.9 0.8 4.5 1.4 2.0 0.8"/><line x1="200.5" y1="485.2" x2="205.1" y2="599.7" stroke-dasharray="5.0 0.8 5.6 1.3 2.8 0.9 5.7 1.2 5.7 1.1 3.4 1.6 5.2 1.1"/><line x1="202.5" y1="485.1" x2="207.2" y2="603.4" stroke-dasharray="6.5 1.1 6.0 1.3 6.2 1.4 6.1 1.5 6.8 1.3 4.4 1.3 5.9 1.1"/><line x1="206.8" y1="545.4" x2="209.3" y2="605.9" stroke-dasharray="3.6 0.9 2.6 1.1 3.1 1.6 1.8 1.0 2.1 1.3 5.8 0.9 1.8 1.1"/><line x1="206.3" y1="482.2" x2="211.1" y2="604.0" stroke-dasharray="2.5 0.9 2.8 1.3 4.8 0.9 2.5 1.0 2.4 1.4 3.2 1.2 6.0 1.1"/><line x1="205.9" y1="472.5" x2="206.3" y2="482.5"/><line x1="210.8" y1="546.8" x2="213.3" y2="608.6" stroke-dasharray="4.2 0.9 1.8 1.6 5.9 1.0 4.4 1.2 3.0 1.6 5.1 0.9 1.6 1.1"/><line x1="210.9" y1="498.7" x2="215.2" y2="609.1" stroke-dasharray="4.8 0.8 2.4 1.0 2.9 1.5 4.3 1.3 7.0 0.9 4.4 0.8 5.7 0.7"/><line x1="213.0" y1="500.5" x2="217.2" y2="611.0" stroke-dasharray="2.0 0.9 5.4 0.8 4.1 1.1 6.8 1.2 6.2 1.0 5.8 1.1 6.5 0.8"/><line x1="214.8" y1="496.6" x2="219.2" y2="611.3" stroke-dasharray="4.4 0.8 6.1 1.0 3.2 0.8 3.2 1.1 5.4 1.0 5.3 0.8 3.7 1.1"/><line x1="217.1" y1="503.2" x2="221.2" y2="613.2" stroke-dasharray="1.6 1.0 5.4 0.9 4.6 1.1 1.6 1.6 5.9 0.9 4.9 1.0 3.6 1.2"/><line x1="216.2" y1="481.1" x2="216.5" y2="488.0"/><line x1="219.0" y1="503.2" x2="223.2" y2="613.1" stroke-dasharray="2.6 1.4 3.3 1.6 4.6 1.4 3.3 1.4 2.0 0.8 2.0 1.3 5.4 0.9"/><line x1="221.1" y1="506.0" x2="225.2" y2="615.8" stroke-dasharray="2.0 0.9 2.4 0.8 3.7 0.8 6.6 1.1 4.3 1.3 5.7 1.4 3.6 1.0"/><line x1="222.9" y1="500.6" x2="227.2" y2="616.5" stroke-dasharray="5.3 1.6 5.8 1.3 4.8 0.7 3.3 1.0 5.1 0.8 3.6 1.2 5.8 1.4"/><line x1="225.0" y1="503.1" x2="229.3" y2="619.3" stroke-dasharray="6.5 1.2 3.4 1.2 2.3 1.3 6.9 1.2 5.4 1.5 2.6 1.6 4.9 0.9"/><line x1="224.3" y1="483.4" x2="224.6" y2="491.4"/><line x1="227.2" y1="509.0" x2="231.2" y2="619.0" stroke-dasharray="6.6 1.0 4.0 0.8 6.9 0.8 6.5 1.2 4.6 1.2 3.0 1.5 7.0 1.4"/><line x1="231.1" y1="562.8" x2="233.2" y2="620.3" stroke-dasharray="6.4 0.9 4.7 1.4 2.5 1.2 1.9 0.7 2.5 1.6 6.7 1.3 3.2 1.3"/><line x1="233.1" y1="562.5" x2="235.3" y2="623.7" stroke-dasharray="1.6 0.9 4.1 0.8 3.6 1.2 2.5 1.2 3.0 1.2 3.3 1.3 1.7 1.3"/><line x1="232.7" y1="550.6" x2="233.0" y2="558.8"/><line x1="235.1" y1="562.5" x2="237.3" y2="624.4" stroke-dasharray="5.3 1.4 5.6 1.1 7.0 1.5 6.2 1.1 3.9 1.2 6.5 1.2 4.4 1.1"/><line x1="235.2" y1="511.4" x2="239.2" y2="623.7" stroke-dasharray="5.5 1.5 5.5 1.2 5.6 1.0 4.8 0.8 2.2 1.1 4.3 1.1 1.8 1.3"/><line x1="237.5" y1="519.7" x2="241.2" y2="626.1" stroke-dasharray="3.7 0.9 1.9 1.5 6.8 1.3 6.3 1.1 5.9 0.9 5.6 1.2 6.5 0.8"/><line x1="239.5" y1="520.1" x2="243.3" y2="628.4" stroke-dasharray="6.7 0.7 2.8 1.0 3.3 0.8 6.4 1.4 3.7 1.0 4.7 0.7 1.7 1.5"/><line x1="241.7" y1="524.6" x2="245.3" y2="631.3" stroke-dasharray="6.9 1.1 2.6 1.0 6.6 1.5 2.6 1.5 3.4 1.1 2.4 1.5 7.0 0.9"/><line x1="243.6" y1="523.4" x2="247.3" y2="632.5" stroke-dasharray="1.8 0.8 5.5 1.0 6.5 1.5 5.4 0.8 5.3 1.5 3.9 0.8 2.7 1.0"/><line x1="245.7" y1="524.8" x2="249.2" y2="631.3" stroke-dasharray="2.8 1.3 5.8 1.0 5.1 1.5 4.7 0.9 3.2 1.5 5.2 0.9 5.0 0.8"/><line x1="247.8" y1="528.2" x2="251.3" y2="634.0" stroke-dasharray="4.4 0.7 4.8 1.0 2.9 1.4 2.0 1.0 5.7 0.9 3.0 1.2 2.5 1.5"/><line x1="249.7" y1="526.3" x2="253.3" y2="635.2" stroke-dasharray="5.6 1.0 6.6 1.1 2.5 1.2 5.0 1.0 5.1 1.4 4.3 1.2 6.1 1.3"/><line x1="252.0" y1="535.3" x2="255.3" y2="635.5" stroke-dasharray="5.8 0.8 4.8 0.9 3.9 1.4 5.8 1.4 2.8 1.1 2.7 1.2 4.2 0.7"/><line x1="253.9" y1="534.7" x2="257.3" y2="638.4" stroke-dasharray="6.3 0.9 2.3 0.7 4.2 1.1 3.9 0.9 5.9 0.8 6.5 1.2 4.5 1.4"/><line x1="252.9" y1="503.1" x2="253.1" y2="509.5"/><line x1="255.8" y1="530.5" x2="259.3" y2="638.9" stroke-dasharray="4.9 1.2 3.0 1.2 2.0 1.4 2.4 0.9 2.4 1.3 6.1 1.4 1.8 1.1"/><line x1="257.9" y1="533.3" x2="261.4" y2="642.8" stroke-dasharray="1.7 1.1 5.7 1.6 2.3 1.1 5.6 0.7 2.8 1.5 2.3 1.1 3.1 1.1"/><line x1="256.9" y1="502.7" x2="257.2" y2="513.3"/><line x1="261.4" y1="583.2" x2="263.3" y2="641.4" stroke-dasharray="2.9 1.2 2.8 1.1 6.6 1.0 3.4 1.6 4.9 0.7 3.7 1.3 1.8 1.0"/><line x1="262.3" y1="548.3" x2="265.4" y2="645.3" stroke-dasharray="4.0 1.1 6.1 1.0 5.8 0.9 3.4 0.9 4.5 0.8 2.6 0.9 4.1 1.0"/><line x1="264.5" y1="553.0" x2="267.3" y2="645.9" stroke-dasharray="6.2 0.9 3.6 0.8 5.3 1.0 3.0 0.7 2.5 0.9 3.7 1.5 5.4 0.9"/><line x1="266.3" y1="547.4" x2="269.4" y2="648.3" stroke-dasharray="3.5 1.4 5.5 1.5 1.6 1.0 3.6 0.8 6.4 1.0 5.7 1.2 1.8 1.1"/><line x1="265.1" y1="508.7" x2="265.3" y2="514.2"/><line x1="268.4" y1="552.5" x2="271.3" y2="646.3" stroke-dasharray="3.2 1.1 4.5 0.8 5.4 0.9 5.5 1.3 2.3 0.9 3.0 1.3 3.7 1.0"/><line x1="270.4" y1="550.8" x2="273.3" y2="648.7" stroke-dasharray="3.4 0.9 1.7 0.7 5.0 1.2 5.9 1.6 3.1 1.3 6.6 0.9 5.3 1.3"/><line x1="272.6" y1="557.6" x2="275.3" y2="649.9" stroke-dasharray="5.0 0.8 3.9 1.1 1.8 1.0 3.3 1.1 3.0 0.8 3.7 1.1 2.4 1.3"/><line x1="271.3" y1="515.0" x2="271.5" y2="521.6"/><line x1="274.5" y1="555.2" x2="277.3" y2="651.0" stroke-dasharray="4.7 1.3 4.5 1.3 1.6 1.1 3.5 0.8 3.7 0.7 4.2 1.2 4.1 1.0"/><line x1="273.3" y1="513.7" x2="273.5" y2="520.4"/><line x1="276.6" y1="560.5" x2="279.4" y2="654.0" stroke-dasharray="2.9 1.3 2.5 1.1 4.9 1.6 3.5 1.2 6.7 1.4 5.0 1.3 3.8 1.1"/><line x1="276.2" y1="545.1" x2="276.5" y2="555.0"/><line x1="278.5" y1="557.7" x2="281.4" y2="656.7" stroke-dasharray="1.7 0.8 4.3 1.0 3.5 1.6 2.3 0.9 2.8 1.3 2.8 0.7 4.5 1.1"/><line x1="277.8" y1="531.9" x2="278.1" y2="540.4"/><line x1="280.6" y1="560.4" x2="283.4" y2="657.1" stroke-dasharray="4.6 1.4 6.8 1.0 3.4 1.5 3.2 1.3 5.3 1.3 6.8 1.4 2.4 1.3"/><line x1="282.7" y1="562.0" x2="285.4" y2="657.5" stroke-dasharray="3.1 1.4 4.4 0.9 2.9 1.0 2.5 1.2 2.2 0.8 1.9 0.8 5.4 0.8"/><line x1="284.7" y1="565.1" x2="287.4" y2="659.4" stroke-dasharray="2.4 1.5 6.3 0.7 2.9 1.2 5.9 1.1 5.4 0.9 5.4 1.0 3.3 1.4"/><line x1="286.8" y1="567.0" x2="289.4" y2="661.1" stroke-dasharray="3.8 1.3 4.9 1.4 5.9 0.8 3.6 1.3 2.8 0.9 1.6 1.2 6.7 1.6"/><line x1="286.2" y1="546.4" x2="286.4" y2="553.5"/><line x1="289.7" y1="600.2" x2="291.4" y2="663.9" stroke-dasharray="6.9 0.7 5.4 0.8 1.7 1.0 5.5 1.6 2.2 1.0 1.6 1.2 4.2 1.0"/><line x1="291.2" y1="583.5" x2="293.4" y2="662.9" stroke-dasharray="3.7 1.3 5.7 1.6 3.6 1.3 4.5 1.4 2.3 0.9 2.1 1.5 2.9 1.1"/><line x1="290.1" y1="540.3" x2="290.2" y2="545.0"/><line x1="293.2" y1="582.6" x2="295.4" y2="663.8" stroke-dasharray="4.9 0.9 2.8 1.1 3.5 0.9 1.8 0.8 6.4 1.0 1.9 0.9 4.2 1.6"/><line x1="292.8" y1="567.1" x2="293.0" y2="574.6"/><line x1="295.2" y1="582.8" x2="297.4" y2="667.7" stroke-dasharray="3.7 0.8 4.5 1.3 4.9 0.9 6.7 1.5 7.0 1.1 6.1 1.4 2.5 0.7"/><line x1="293.9" y1="532.3" x2="294.0" y2="537.3"/><line x1="297.2" y1="583.7" x2="299.4" y2="668.9" stroke-dasharray="3.2 1.2 1.6 0.9 6.8 0.7 4.4 1.4 5.9 1.4 3.7 1.4 6.1 1.4"/><line x1="299.2" y1="582.9" x2="301.5" y2="671.1" stroke-dasharray="3.7 1.3 2.9 1.5 1.6 1.2 2.7 1.0 3.5 1.3 6.0 1.0 5.0 1.0"/><line x1="298.8" y1="569.6" x2="299.0" y2="576.1"/><line x1="305.7" y1="604.7" x2="307.4" y2="673.8" stroke-dasharray="5.2 0.9 2.1 0.8 3.4 1.1 1.6 1.2 3.7 1.0 4.5 1.6 2.6 1.5"/><line x1="307.7" y1="606.2" x2="309.4" y2="673.6" stroke-dasharray="6.9 1.1 6.8 0.9 3.7 1.3 2.5 0.9 5.2 1.6 3.3 0.9 3.5 1.6"/><line x1="306.9" y1="574.4" x2="307.1" y2="581.2"/><line x1="309.7" y1="606.7" x2="311.4" y2="675.4" stroke-dasharray="4.9 1.5 6.2 1.3 4.3 1.2 2.1 1.5 5.3 1.1 5.2 1.1 3.6 0.9"/><line x1="311.7" y1="607.5" x2="313.4" y2="678.0" stroke-dasharray="1.7 1.3 4.0 1.2 4.8 1.5 2.3 1.1 7.0 1.4 3.2 1.4 6.9 1.1"/></g>
<polygon points="96.5,330.0 102.6,338.3 200.0,403.9 350.0,505.0 506.1,610.3 505.8,612.1 350.0,507.4 200.0,406.6 102.6,341.2 96.3,331.4" fill="#fefefe" stroke="#fefefe" stroke-width="0.6" stroke-linejoin="round" />
<polygon points="96.3,331.4 102.6,341.2 200.0,406.6 350.0,507.4 505.8,612.1 505.5,613.9 350.0,509.7 200.0,409.3 102.6,344.1 96.1,332.8" fill="#fbfbfb" stroke="#fbfbfb" stroke-width="0.6" stroke-linejoin="round" />
<polygon points="96.1,332.8 102.6,344.1 200.0,409.3 350.0,509.7 505.5,613.9 505.2,615.7 350.0,512.1 200.0,412.0 102.6,346.9 95.9,334.1" fill="#f9f9f9" stroke="#f9f9f9" stroke-width="0.6" stroke-linejoin="round" />
<polygon points="95.9,334.1 102.6,346.9 200.0,412.0 350.0,512.1 505.2,615.7 504.9,617.5 350.0,514.4 200.0,414.6 102.6,349.8 95.7,335.5" fill="#f6f6f6" stroke="#f6f6f6" stroke-width="0.6" stroke-linejoin="round" />
<polygon points="95.7,335.5 102.6,349.8 200.0,414.6 350.0,514.4 504.9,617.5 504.5,619.3 350.0,516.8 200.0,417.3 102.6,352.7 95.4,336.9" fill="#eeeeee" stroke="#eeeeee" stroke-width="0.6" stroke-linejoin="round" />
<polygon points="95.4,336.9 102.6,352.7 200.0,417.3 350.0,516.8 504.5,619.3 504.2,621.1 350.0,519.1 200.0,420.0 102.6,355.6 95.2,338.2" fill="#e6e6e6" stroke="#e6e6e6" stroke-width="0.6" stroke-linejoin="round" />
<polygon points="95.2,338.2 102.6,355.6 200.0,420.0 350.0,519.1 504.2,621.1 503.9,623.0 350.0,521.5 200.0,422.6 102.6,358.4 95.0,339.6" fill="#dddddd" stroke="#dddddd" stroke-width="0.6" stroke-linejoin="round" />
<polygon points="95.0,339.6 102.6,358.4 200.0,422.6 350.0,521.5 503.9,623.0 503.6,624.8 350.0,523.9 200.0,425.3 102.6,361.3 94.8,341.0" fill="#d6d6d6" stroke="#d6d6d6" stroke-width="0.6" stroke-linejoin="round" />
<polyline points="102.6,338.3 200.0,403.9 350.0,505.0 506.1,610.3" fill="none" stroke="#1e1e1e" stroke-width="1.1" stroke-linejoin="round" />
<polyline points="102.6,361.3 200.0,425.3 350.0,523.9 503.6,624.8" fill="none" stroke="#1e1e1e" stroke-width="1.0" stroke-linejoin="round" />
<polygon points="1234.0,289.0 1247.0,287.0 1247.0,312.0 1234.0,312.0" fill="#bcbcbc" stroke="none" stroke-width="1" stroke-linejoin="round" />
<polygon points="577.0,631.1 600.1,618.4 623.2,605.9 646.3,593.4 669.4,581.1 692.5,568.8 715.6,556.7 738.7,544.6 761.8,532.7 784.9,520.8 808.0,509.1 831.1,497.5 854.2,486.0 877.3,474.5 900.4,463.2 923.5,452.0 946.6,440.9 969.7,429.9 992.8,419.0 1015.9,408.2 1039.0,397.5 1062.1,386.9 1085.2,376.4 1108.3,366.0 1131.4,355.8 1154.5,345.6 1177.6,335.5 1200.7,325.5 1223.8,315.7 1246.9,305.9 1245.0,337.1 1222.0,348.6 1198.9,360.0 1175.9,371.5 1152.9,382.9 1129.8,394.3 1106.8,405.8 1083.8,417.2 1060.7,428.6 1037.7,440.0 1014.7,451.4 991.6,462.8 968.6,474.1 945.6,485.5 922.5,496.9 899.5,508.2 876.4,519.6 853.4,530.9 830.4,542.2 807.3,553.6 784.3,564.9 761.3,576.2 738.2,587.5 715.2,598.8 692.2,610.1 669.1,621.4 646.1,632.6 623.1,643.9 600.0,655.1 577.0,666.4" fill="#989898" stroke="#1e1e1e" stroke-width="1.1" stroke-linejoin="round" />
<polygon points="566.0,614.8 589.3,602.0 612.5,589.4 635.8,576.9 659.0,564.5 682.3,552.2 705.5,540.0 728.8,527.9 752.0,515.9 775.3,504.0 798.5,492.3 821.8,480.6 845.0,469.0 868.3,457.6 891.5,446.2 914.8,435.0 938.0,423.9 961.3,412.8 984.5,401.9 1007.8,391.1 1031.0,380.4 1054.3,369.8 1077.5,359.3 1100.8,348.9 1124.0,338.6 1147.3,328.4 1170.5,318.3 1193.8,308.4 1217.0,298.5 1240.3,288.7 1240.3,291.2 1217.0,301.0 1193.8,310.9 1170.5,320.9 1147.3,331.0 1124.0,341.1 1100.8,351.4 1077.5,361.8 1054.3,372.4 1031.0,383.0 1007.8,393.7 984.5,404.5 961.3,415.5 938.0,426.5 914.8,437.7 891.5,448.9 868.3,460.3 845.0,471.7 821.8,483.3 798.5,495.0 775.3,506.8 752.0,518.6 728.8,530.6 705.5,542.7 682.3,554.9 659.0,567.3 635.8,579.7 612.5,592.2 589.3,604.8 566.0,617.6" fill="#fefefe" stroke="#fefefe" stroke-width="0.6" stroke-linejoin="round" />
<polygon points="566.0,617.6 589.3,604.8 612.5,592.2 635.8,579.7 659.0,567.3 682.3,554.9 705.5,542.7 728.8,530.6 752.0,518.6 775.3,506.8 798.5,495.0 821.8,483.3 845.0,471.7 868.3,460.3 891.5,448.9 914.8,437.7 938.0,426.5 961.3,415.5 984.5,404.5 1007.8,393.7 1031.0,383.0 1054.3,372.4 1077.5,361.8 1100.8,351.4 1124.0,341.1 1147.3,331.0 1170.5,320.9 1193.8,310.9 1217.0,301.0 1240.3,291.2 1240.3,293.7 1217.0,303.5 1193.8,313.4 1170.5,323.4 1147.3,333.5 1124.0,343.7 1100.8,354.0 1077.5,364.4 1054.3,374.9 1031.0,385.6 1007.8,396.3 984.5,407.1 961.3,418.1 938.0,429.1 914.8,440.3 891.5,451.6 868.3,462.9 845.0,474.4 821.8,486.0 798.5,497.7 775.3,509.5 752.0,521.4 728.8,533.4 705.5,545.5 682.3,557.7 659.0,570.0 635.8,582.5 612.5,595.0 589.3,607.6 566.0,620.4" fill="#fdfdfd" stroke="#fdfdfd" stroke-width="0.6" stroke-linejoin="round" />
<polygon points="566.0,620.4 589.3,607.6 612.5,595.0 635.8,582.5 659.0,570.0 682.3,557.7 705.5,545.5 728.8,533.4 752.0,521.4 775.3,509.5 798.5,497.7 821.8,486.0 845.0,474.4 868.3,462.9 891.5,451.6 914.8,440.3 938.0,429.1 961.3,418.1 984.5,407.1 1007.8,396.3 1031.0,385.6 1054.3,374.9 1077.5,364.4 1100.8,354.0 1124.0,343.7 1147.3,333.5 1170.5,323.4 1193.8,313.4 1217.0,303.5 1240.3,293.7 1240.3,296.2 1217.0,306.0 1193.8,315.9 1170.5,325.9 1147.3,336.0 1124.0,346.3 1100.8,356.6 1077.5,367.0 1054.3,377.5 1031.0,388.2 1007.8,398.9 984.5,409.8 961.3,420.7 938.0,431.8 914.8,443.0 891.5,454.2 868.3,465.6 845.0,477.1 821.8,488.7 798.5,500.4 775.3,512.2 752.0,524.1 728.8,536.1 705.5,548.2 682.3,560.5 659.0,572.8 635.8,585.2 612.5,597.8 589.3,610.4 566.0,623.2" fill="#fcfcfc" stroke="#fcfcfc" stroke-width="0.6" stroke-linejoin="round" />
<polygon points="566.0,623.2 589.3,610.4 612.5,597.8 635.8,585.2 659.0,572.8 682.3,560.5 705.5,548.2 728.8,536.1 752.0,524.1 775.3,512.2 798.5,500.4 821.8,488.7 845.0,477.1 868.3,465.6 891.5,454.2 914.8,443.0 938.0,431.8 961.3,420.7 984.5,409.8 1007.8,398.9 1031.0,388.2 1054.3,377.5 1077.5,367.0 1100.8,356.6 1124.0,346.3 1147.3,336.0 1170.5,325.9 1193.8,315.9 1217.0,306.0 1240.3,296.2 1240.3,298.7 1217.0,308.5 1193.8,318.4 1170.5,328.5 1147.3,338.6 1124.0,348.8 1100.8,359.1 1077.5,369.6 1054.3,380.1 1031.0,390.8 1007.8,401.5 984.5,412.4 961.3,423.4 938.0,434.4 914.8,445.6 891.5,456.9 868.3,468.3 845.0,479.8 821.8,491.4 798.5,503.1 775.3,514.9 752.0,526.8 728.8,538.8 705.5,551.0 682.3,563.2 659.0,575.6 635.8,588.0 612.5,600.6 589.3,613.2 566.0,626.0" fill="#f6f6f6" stroke="#f6f6f6" stroke-width="0.6" stroke-linejoin="round" />
<polygon points="566.0,626.0 589.3,613.2 612.5,600.6 635.8,588.0 659.0,575.6 682.3,563.2 705.5,551.0 728.8,538.8 752.0,526.8 775.3,514.9 798.5,503.1 821.8,491.4 845.0,479.8 868.3,468.3 891.5,456.9 914.8,445.6 938.0,434.4 961.3,423.4 984.5,412.4 1007.8,401.5 1031.0,390.8 1054.3,380.1 1077.5,369.6 1100.8,359.1 1124.0,348.8 1147.3,338.6 1170.5,328.5 1193.8,318.4 1217.0,308.5 1240.3,298.7 1240.3,301.2 1217.0,311.0 1193.8,321.0 1170.5,331.0 1147.3,341.1 1124.0,351.4 1100.8,361.7 1077.5,372.2 1054.3,382.7 1031.0,393.4 1007.8,404.1 984.5,415.0 961.3,426.0 938.0,437.1 914.8,448.3 891.5,459.6 868.3,471.0 845.0,482.5 821.8,494.1 798.5,505.8 775.3,517.6 752.0,529.5 728.8,541.6 705.5,553.7 682.3,566.0 659.0,578.3 635.8,590.8 612.5,603.3 589.3,616.0 566.0,628.8" fill="#e3e3e3" stroke="#e3e3e3" stroke-width="0.6" stroke-linejoin="round" />
<polygon points="566.0,628.8 589.3,616.0 612.5,603.3 635.8,590.8 659.0,578.3 682.3,566.0 705.5,553.7 728.8,541.6 752.0,529.5 775.3,517.6 798.5,505.8 821.8,494.1 845.0,482.5 868.3,471.0 891.5,459.6 914.8,448.3 938.0,437.1 961.3,426.0 984.5,415.0 1007.8,404.1 1031.0,393.4 1054.3,382.7 1077.5,372.2 1100.8,361.7 1124.0,351.4 1147.3,341.1 1170.5,331.0 1193.8,321.0 1217.0,311.0 1240.3,301.2 1240.3,303.7 1217.0,313.5 1193.8,323.5 1170.5,333.5 1147.3,343.7 1124.0,353.9 1100.8,364.3 1077.5,374.7 1054.3,385.3 1031.0,396.0 1007.8,406.7 984.5,417.6 961.3,428.6 938.0,439.7 914.8,450.9 891.5,462.2 868.3,473.6 845.0,485.2 821.8,496.8 798.5,508.5 775.3,520.3 752.0,532.3 728.8,544.3 705.5,556.5 682.3,568.7 659.0,581.1 635.8,593.5 612.5,606.1 589.3,618.8 566.0,631.6" fill="#d1d1d1" stroke="#d1d1d1" stroke-width="0.6" stroke-linejoin="round" />
<polygon points="566.0,631.6 589.3,618.8 612.5,606.1 635.8,593.5 659.0,581.1 682.3,568.7 705.5,556.5 728.8,544.3 752.0,532.3 775.3,520.3 798.5,508.5 821.8,496.8 845.0,485.2 868.3,473.6 891.5,462.2 914.8,450.9 938.0,439.7 961.3,428.6 984.5,417.6 1007.8,406.7 1031.0,396.0 1054.3,385.3 1077.5,374.7 1100.8,364.3 1124.0,353.9 1147.3,343.7 1170.5,333.5 1193.8,323.5 1217.0,313.5 1240.3,303.7 1240.3,306.2 1217.0,316.0 1193.8,326.0 1170.5,336.0 1147.3,346.2 1124.0,356.5 1100.8,366.8 1077.5,377.3 1054.3,387.9 1031.0,398.6 1007.8,409.4 984.5,420.3 961.3,431.3 938.0,442.4 914.8,453.6 891.5,464.9 868.3,476.3 845.0,487.8 821.8,499.5 798.5,511.2 775.3,523.0 752.0,535.0 728.8,547.1 705.5,559.2 682.3,571.5 659.0,583.8 635.8,596.3 612.5,608.9 589.3,621.6 566.0,634.4" fill="#bfbfbf" stroke="#bfbfbf" stroke-width="0.6" stroke-linejoin="round" />
<polygon points="566.0,634.4 589.3,621.6 612.5,608.9 635.8,596.3 659.0,583.8 682.3,571.5 705.5,559.2 728.8,547.1 752.0,535.0 775.3,523.0 798.5,511.2 821.8,499.5 845.0,487.8 868.3,476.3 891.5,464.9 914.8,453.6 938.0,442.4 961.3,431.3 984.5,420.3 1007.8,409.4 1031.0,398.6 1054.3,387.9 1077.5,377.3 1100.8,366.8 1124.0,356.5 1147.3,346.2 1170.5,336.0 1193.8,326.0 1217.0,316.0 1240.3,306.2 1240.3,308.7 1217.0,318.5 1193.8,328.5 1170.5,338.6 1147.3,348.7 1124.0,359.0 1100.8,369.4 1077.5,379.9 1054.3,390.5 1031.0,401.2 1007.8,412.0 984.5,422.9 961.3,433.9 938.0,445.0 914.8,456.2 891.5,467.6 868.3,479.0 845.0,490.5 821.8,502.2 798.5,513.9 775.3,525.8 752.0,537.7 728.8,549.8 705.5,562.0 682.3,574.2 659.0,586.6 635.8,599.1 612.5,611.7 589.3,624.4 566.0,637.2" fill="#adadad" stroke="#adadad" stroke-width="0.6" stroke-linejoin="round" />
<polyline points="566.0,614.8 589.3,602.0 612.5,589.4 635.8,576.9 659.0,564.5 682.3,552.2 705.5,540.0 728.8,527.9 752.0,515.9 775.3,504.0 798.5,492.3 821.8,480.6 845.0,469.0 868.3,457.6 891.5,446.2 914.8,435.0 938.0,423.9 961.3,412.8 984.5,401.9 1007.8,391.1 1031.0,380.4 1054.3,369.8 1077.5,359.3 1100.8,348.9 1124.0,338.6 1147.3,328.4 1170.5,318.3 1193.8,308.4 1217.0,298.5 1240.3,288.7" fill="none" stroke="#1e1e1e" stroke-width="1.1" stroke-linejoin="round" />
<polyline points="577.0,631.1 600.1,618.4 623.2,605.9 646.3,593.4 669.4,581.1 692.5,568.8 715.6,556.7 738.7,544.6 761.8,532.7 784.9,520.8 808.0,509.1 831.1,497.5 854.2,486.0 877.3,474.5 900.4,463.2 923.5,452.0 946.6,440.9 969.7,429.9 992.8,419.0 1015.9,408.2 1039.0,397.5 1062.1,386.9 1085.2,376.4 1108.3,366.0 1131.4,355.8 1154.5,345.6 1177.6,335.5 1200.7,325.5 1223.8,315.7 1246.9,305.9" fill="none" stroke="#1e1e1e" stroke-width="1.0" stroke-linejoin="round" />
<path d="M503.5,624 L503.5,660.5 Q512,672 536.4,672.6 Q560,672 576,665 L576,631 Q560,641 536.4,640.6 Q512,638 503.5,624 Z" fill="url(#lidcorner)" stroke="#1e1e1e" stroke-width="1" stroke-linejoin="round" />
<linearGradient id="cfil" x1="0" y1="0" x2="0" y2="1"><stop offset="0" stop-color="#ffffff"/><stop offset="0.5" stop-color="#f2f2f2"/><stop offset="1" stop-color="#cfcfcf"/></linearGradient>
<path d="M503.5,610.5 Q512,620 530.7,619.8 Q552,619 566,615 L577,631.1 L576,631 Q560,641 536.4,640.6 Q512,638 503.5,624 Z" fill="url(#cfil)" stroke="#1e1e1e" stroke-width="1" stroke-linejoin="round" />
<linearGradient id="rcor" x1="0" y1="0" x2="0" y2="1"><stop offset="0" stop-color="#fbfbfb"/><stop offset="0.35" stop-color="#ececec"/><stop offset="0.5" stop-color="#d4d4d4"/><stop offset="1" stop-color="#bdbdbd"/></linearGradient>
<path d="M 1238,288.4 Q 1246,292 1246.3,304.2 L 1245.3,337.0 L 1244.2,338.5 Q 1256,334 1259.8,322.9 L 1259.8,283.5 Q 1257,275 1252.5,271.1 L 1248.4,276.3 Q 1248,284 1238,288.4 Z" fill="url(#rcor)" stroke="#1e1e1e" stroke-width="1" stroke-linejoin="round" />
<path d="M 1246.3,304.2 Q 1254,301 1259.8,296" fill="none" stroke="#333" stroke-width="0.8" stroke-linejoin="round" />
<path d="M 85.5,346 L 85.5,336 Q 86,309 106.5,306.8 L 131.8,297.1 L 154.3,286.5 L 176.7,275.9 L 199.1,265.5 L 221.6,255.1 L 244.0,244.9 L 266.4,234.7 L 288.9,224.6 L 311.3,214.6 L 333.7,204.7 L 356.2,194.8 L 378.6,185.1 L 401.0,175.4 L 423.5,165.9 L 445.9,156.4 L 468.4,147.0 L 490.8,137.7 L 513.2,128.5 L 535.7,119.4 L 558.1,110.3 L 580.5,101.4 L 603.0,92.5 L 625.4,83.7 L 647.8,75.0 L 670.3,66.4 L 692.7,57.9 L 715.1,49.5 L 737.6,41.1 L 760.0,32.9 Q 784,27.5 808,36.2 L 1240,262.4 Q 1256,270 1260,285 L 1248,290 L 102.6,338.3 L 94.8,341 Z" fill="#f7f7f7" stroke="#1e1e1e" stroke-width="1.0" stroke-linejoin="round" />
<path d="M 102.6,338.3 Q 95,325 109.4,310 L 131.8,299.7 L 154.3,289.1 L 176.7,278.5 L 199.1,268.1 L 221.6,257.7 L 244.0,247.5 L 266.4,237.3 L 288.9,227.2 L 311.3,217.2 L 333.7,207.3 L 356.2,197.4 L 378.6,187.7 L 401.0,178.0 L 423.5,168.5 L 445.9,159.0 L 468.4,149.6 L 490.8,140.3 L 513.2,131.1 L 535.7,122.0 L 558.1,112.9 L 580.5,104.0 L 603.0,95.1 L 625.4,86.3 L 647.8,77.6 L 670.3,69.0 L 692.7,60.5 L 715.1,52.1 L 737.6,43.7 L 760.0,35.5 Q 784,30.5 806,37.8 L 1240.3,265.4 Q 1256,273 1240.3,288.7 L 1217.0,298.5 L 1193.8,308.4 L 1170.5,318.3 L 1147.3,328.4 L 1124.0,338.6 L 1100.8,348.9 L 1077.5,359.3 L 1054.3,369.8 L 1031.0,380.4 L 1007.8,391.1 L 984.5,401.9 L 961.3,412.8 L 938.0,423.9 L 914.8,435.0 L 891.5,446.2 L 868.3,457.6 L 845.0,469.0 L 821.8,480.6 L 798.5,492.3 L 775.3,504.0 L 752.0,515.9 L 728.8,527.9 L 705.5,540.0 L 682.3,552.2 L 659.0,564.5 L 635.8,576.9 L 612.5,589.4 L 589.3,602.0 L 566.0,614.8 Q 530,624 503.5,608.5 Z" fill="#f7f7f7" stroke="#1a1a1a" stroke-width="1.3" stroke-linejoin="round" />
<ellipse cx="134.8" cy="332.1" rx="19.0" ry="10.5" fill="#ededed" stroke="#1e1e1e" stroke-width="1.1" />
<ellipse cx="134.8" cy="332.9" rx="15.6" ry="8.0" fill="url(#screw)" stroke="#333" stroke-width="0.9" />
<ellipse cx="135.6" cy="336.1" rx="7.6" ry="4.2" fill="#d2d2d2" stroke="#333" stroke-width="0.8" />
<ellipse cx="322.4" cy="457.1" rx="19.0" ry="11.0" fill="#ededed" stroke="#1e1e1e" stroke-width="1.1" />
<ellipse cx="322.4" cy="457.9" rx="15.6" ry="8.4" fill="url(#screw)" stroke="#333" stroke-width="0.9" />
<ellipse cx="323.2" cy="461.3" rx="7.6" ry="4.4" fill="#d2d2d2" stroke="#333" stroke-width="0.8" />
<ellipse cx="797.9" cy="49.5" rx="19.0" ry="8.0" fill="#ededed" stroke="#1e1e1e" stroke-width="1.1" />
<ellipse cx="797.9" cy="50.3" rx="15.6" ry="6.1" fill="url(#screw)" stroke="#333" stroke-width="0.9" />
<ellipse cx="798.7" cy="52.5" rx="7.6" ry="3.2" fill="#d2d2d2" stroke="#333" stroke-width="0.8" />
<ellipse cx="995.6" cy="154.1" rx="19.0" ry="9.0" fill="#ededed" stroke="#1e1e1e" stroke-width="1.1" />
<ellipse cx="995.6" cy="154.9" rx="15.6" ry="6.8" fill="url(#screw)" stroke="#333" stroke-width="0.9" />
<ellipse cx="996.4" cy="157.5" rx="7.6" ry="3.6" fill="#d2d2d2" stroke="#333" stroke-width="0.8" />
<ellipse cx="1208.5" cy="268.5" rx="19.0" ry="9.5" fill="#ededed" stroke="#1e1e1e" stroke-width="1.1" />
<ellipse cx="1208.5" cy="269.3" rx="15.6" ry="7.2" fill="url(#screw)" stroke="#333" stroke-width="0.9" />
<ellipse cx="1209.3" cy="272.1" rx="7.6" ry="3.8" fill="#d2d2d2" stroke="#333" stroke-width="0.8" />
<ellipse cx="526.0" cy="594.5" rx="19.0" ry="11.5" fill="#ededed" stroke="#1e1e1e" stroke-width="1.1" />
<ellipse cx="526.0" cy="595.3" rx="15.6" ry="8.7" fill="url(#screw)" stroke="#333" stroke-width="0.9" />
<ellipse cx="526.8" cy="598.9" rx="7.6" ry="4.6" fill="#d2d2d2" stroke="#333" stroke-width="0.8" />
<path d="M 478.6,375.1 Q 471,362 487,351.3 L 720,245 L 780,219.4 L 859.1,187 Q 880,180 902.9,191.2 Q 907,194 910,198.3 L 956.6,247.7 L 999,294.3 Q 1002,304 989.1,308.5 L 584.3,493.2 Q 568,499 559.4,483.9 Z" fill="#f5f5f5" stroke="#1e1e1e" stroke-width="1.1" stroke-linejoin="round" />
<path d="M 481.3,355.1 Q 482,352 487,351.3 L 720,245 L 780,219.4 L 859.1,187 Q 880,180 902.9,191.2 L 900,203.9 Q 880,196 859.1,199.7 L 780,236.4 L 720,261 L 494.5,363.5 Q 488,367 486,372 Z" fill="#b3b3b3" stroke="#2a2a2a" stroke-width="0.9" stroke-linejoin="round" />
<polygon points="487.0,351.3 720.0,245.0 780.0,219.4 859.1,187.0 870.0,183.5 871.0,192.5 859.1,193.3 780.0,227.9 720.0,253.0 490.8,357.4 483.0,360.0" fill="#fafafa" stroke="none" stroke-width="1" stroke-linejoin="round" />
<polyline points="490.8,357.4 720.0,253.0 780.0,227.9 859.1,193.3" fill="none" stroke="#9a9a9a" stroke-width="0.6" stroke-linejoin="round" />
<path d="M 902.9,191.2 Q 907,194 910,198.3 L 956.6,247.7 L 999,294.3 Q 1001,300 996,302 L 989.1,302.8 L 907.2,209.6 L 900,203.9 Z" fill="#e4e4e4" stroke="#2a2a2a" stroke-width="0.9" stroke-linejoin="round" />
<polyline points="494.5,363.5 720.0,261.0 780.0,236.4 859.1,199.7" fill="none" stroke="#555" stroke-width="1.6" stroke-linejoin="round" stroke-dasharray="1.2 1"/>
<polygon points="571.9,349.6 777.0,257.0 837.6,291.2 629.4,386.9" fill="#c3c3c3" stroke="#333" stroke-width="1" stroke-linejoin="round" />
<ellipse cx="712.3" cy="389.1" rx="21.0" ry="11.5" fill="#e9e9e9" stroke="#1e1e1e" stroke-width="1.1" />
<ellipse cx="712.3" cy="390.6" rx="17.0" ry="8.5" fill="#cacaca" stroke="#333" stroke-width="0.9" />
<ellipse cx="752.7" cy="370.4" rx="21.0" ry="11.5" fill="#e9e9e9" stroke="#1e1e1e" stroke-width="1.1" />
<ellipse cx="752.7" cy="371.9" rx="17.0" ry="8.5" fill="#cacaca" stroke="#333" stroke-width="0.9" />
<ellipse cx="793.1" cy="351.8" rx="21.0" ry="11.5" fill="#e9e9e9" stroke="#1e1e1e" stroke-width="1.1" />
<ellipse cx="793.1" cy="353.3" rx="17.0" ry="8.5" fill="#cacaca" stroke="#333" stroke-width="0.9" />
<ellipse cx="832.9" cy="332.5" rx="21.0" ry="11.5" fill="#e9e9e9" stroke="#1e1e1e" stroke-width="1.1" />
<ellipse cx="832.9" cy="334.0" rx="17.0" ry="8.5" fill="#cacaca" stroke="#333" stroke-width="0.9" />
<path d="M727.5,409 L733,405.5 M727.5,409 L733.5,411 M728.5,409 Q736,404.5 741,406 Q746,405 748,409.5" fill="none" stroke="#1e1e1e" stroke-width="1.5"/>
<polygon points="776,384 791,387 777.2,392.6" fill="none" stroke="#1e1e1e" stroke-width="1.3"/>
<polygon points="810,368 823,362.8 825.8,371" fill="none" stroke="#1e1e1e" stroke-width="1.3"/>
<text transform="matrix(0.94 -0.34 0.62 0.72 851 355)" font-family="Liberation Sans" font-weight="bold" font-size="12" fill="#1e1e1e" stroke="#1e1e1e" stroke-width="0.5" textLength="19" lengthAdjust="spacingAndGlyphs">OK</text>
<g font-family="Liberation Sans" font-weight="bold" font-size="10.5" fill="#1a1a1a" stroke="#1a1a1a" stroke-width="0.5"><text transform="matrix(0.944 -0.330 0.62 0.70 803 257.5)" textLength="38" lengthAdjust="spacingAndGlyphs">Power</text><text transform="matrix(0.944 -0.330 0.62 0.70 821.5 270)" textLength="43" lengthAdjust="spacingAndGlyphs">Comm.</text><text transform="matrix(0.944 -0.330 0.62 0.70 838.5 281)" textLength="33" lengthAdjust="spacingAndGlyphs">Fault</text></g>
<g transform="matrix(0.923 -0.386 0.675 0.74 1050.6 339.8)" font-family="Liberation Sans" font-weight="bold" font-size="27" fill="#f7f7f7" stroke="#1a1a1a" stroke-width="1.4"><text x="0" y="0" textLength="83" lengthAdjust="spacingAndGlyphs">solar</text><rect x="88.2" y="-20.2" width="66.4" height="26.5" fill="#f7f7f7" stroke="#1a1a1a" stroke-width="1.3"/><text x="92" y="2" font-size="25" textLength="59" lengthAdjust="spacingAndGlyphs">edge</text></g>
<polygon points="910.0,487.0 942.0,472.0 948.0,477.0 946.0,487.0 915.0,501.0 909.0,496.0" fill="#d8dae8" stroke="#1e1e1e" stroke-width="1" stroke-linejoin="round" />
<g stroke="#000" stroke-width="3" fill="none"><polyline points="852,246.5 1284.7,247.2"/><polyline points="852,330.5 1415,328"/><polyline points="1208,483.5 1392.4,483.3"/><polyline points="1051.5,545 1052,643 1402.8,642.2"/><polyline points="906.5,637 906.5,820.9 1201.5,820.4"/><polyline points="746.5,675 747.4,939.4 1200.5,937.2"/><polyline points="657.5,719 659.3,968.7"/></g>
<g font-family="Liberation Sans" font-size="46" fill="#000" stroke="#000" stroke-width="0.35"><text x="1404.00" y="204" textLength="316.39" lengthAdjust="spacing">LCD-scherm en</text><text x="1405.00" y="255" textLength="229.52" lengthAdjust="spacing">led-lampjes</text><text x="1424.00" y="340.8" textLength="280.24" lengthAdjust="spacing">LCD-knoppen</text><text x="1422.20" y="490.9" textLength="228.24" lengthAdjust="spacing">AC-uitgang</text><text x="1420.40" y="649.5" textLength="218.31" lengthAdjust="spacing">DC-ingang</text><text x="1207.20" y="836.6" textLength="590.64" lengthAdjust="spacing">Communicatie-kabeldoorvoer</text><text x="1205.20" y="973" textLength="386.58" lengthAdjust="spacing">Afgedichte opening</text><text x="430.00" y="1012" textLength="414.50" lengthAdjust="spacing">AAN/UIT-schakelaar</text></g></svg>
</body></html>
